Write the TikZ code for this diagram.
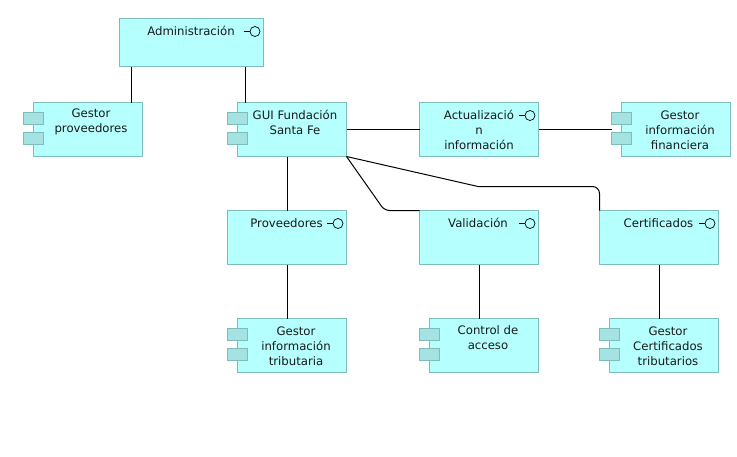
\documentclass[tikz,border=0pt]{standalone}
\usepackage{fontspec}
\setmainfont{DejaVu Sans}
\definecolor{boxfill}{HTML}{B5FFFF}
\definecolor{boxline}{HTML}{7FBDBD}
\definecolor{tabfill}{HTML}{A5E3E3}
\tikzset{
  comp/.style={draw=boxline,fill=boxfill,line width=1pt,inner sep=0pt,outer sep=0pt,anchor=north west},
  tabbox/.style={draw=boxline,fill=tabfill,line width=1pt,inner sep=0pt,outer sep=0pt,minimum width=20pt,minimum height=12pt},
  lbl/.style={font=\fontsize{11.7}{15}\selectfont,align=center,inner sep=0pt,text=black!90},
  conn/.style={draw=black,line width=1pt},
  lolly/.style={draw=black,line width=0.7pt},
  head/.style={circle,draw=black,line width=0.7pt,fill=boxfill,minimum size=10pt,inner sep=0pt,outer sep=0pt}
}
\newcommand{\wideBox}[3]{\node[comp,minimum width=119pt,minimum height=54pt] (#1) at (#2,#3) {};
  \node[head] (#1c) at ([shift={(-8.5,13)}]#1.north east) {};
  \draw[lolly] (#1c.west) -- ++(-6.5,0);}
\newcommand{\compBox}[3]{\node[comp,minimum width=109pt,minimum height=54pt] (#1) at (#2,#3) {};
  \node[tabbox] (#1tabA) at ([shift={(0,15.5)}]#1.north west) {};
  \node[tabbox] (#1tabB) at ([shift={(0,35.5)}]#1.north west) {};}
\begin{document}
\begin{tikzpicture}[x=1pt,y=-1pt]
\useasboundingbox[fill=white] (0,0) rectangle (737,456);
\node[comp,minimum width=144pt,minimum height=48pt] (adm) at (119.5,18.5) {};
\node[head] (admc) at ([shift={(-8.5,13)}]adm.north east) {};
\draw[lolly] (admc.west) -- ++(-6.5,0);
\compBox{gprov}{33.5}{102.5}
\compBox{gui}{237.5}{102.5}
\wideBox{act}{419.5}{102.5}
\compBox{ginfo}{621.5}{102.5}
\wideBox{pro}{227.5}{210.5}
\wideBox{val}{419.5}{210.5}
\wideBox{cer}{599.5}{210.5}
\compBox{gtrib}{237.5}{318.5}
\compBox{ctrl}{429.5}{318.5}
\compBox{gcert}{609.5}{318.5}
% connectors
\draw[conn] ([xshift=-60pt]adm.south) -- ([xshift=43.5pt]gprov.north);
\draw[conn] ([xshift=54pt]adm.south) -- ([xshift=-46.5pt]gui.north);
\draw[conn] (gui.east) -- (act.west);
\draw[conn] (act.east) -- (ginfotabA.south west |- act.east);
\draw[conn] ([xshift=-5pt]gui.south) -- (pro.north);
\draw[conn] (pro.south) -- ([xshift=-5pt]gtrib.north);
\draw[conn] (val.south) -- ([xshift=-5pt]ctrl.north);
\draw[conn] (cer.south) -- ([xshift=-5pt]gcert.north);
\draw[conn,rounded corners=5pt] (gui.south east) -- (384.5,210.5) -- (val.north west);
\draw[conn] (gui.south east) -- (478,186.5) [rounded corners=7pt] -- (599.5,186.5) -- (cer.north west);
% labels
\node[lbl] (t1) at (191,31) {Administración};
\node[lbl] (t2) at (91,122) {Gestor\\proveedores};
\node[lbl] (t3) at (295,122) {GUI Fundación\\Santa Fe};
\node[lbl] (t4) at (479,130) {Actualizació\\n\\información};
\node[lbl] (t5) at (680,130) {Gestor\\información\\financiera};
\node[lbl] (t6) at (286.5,223) {Proveedores};
\node[lbl] (t7) at (478,223) {Validación};
\node[lbl] (t8) at (658.5,223) {Certificados};
\node[lbl] (t9) at (296,346) {Gestor\\información\\tributaria};
\node[lbl] (t10) at (488,338) {Control de\\acceso};
\node[lbl] (t11) at (668,346) {Gestor\\Certificados\\tributarios};
\end{tikzpicture}
\end{document}
